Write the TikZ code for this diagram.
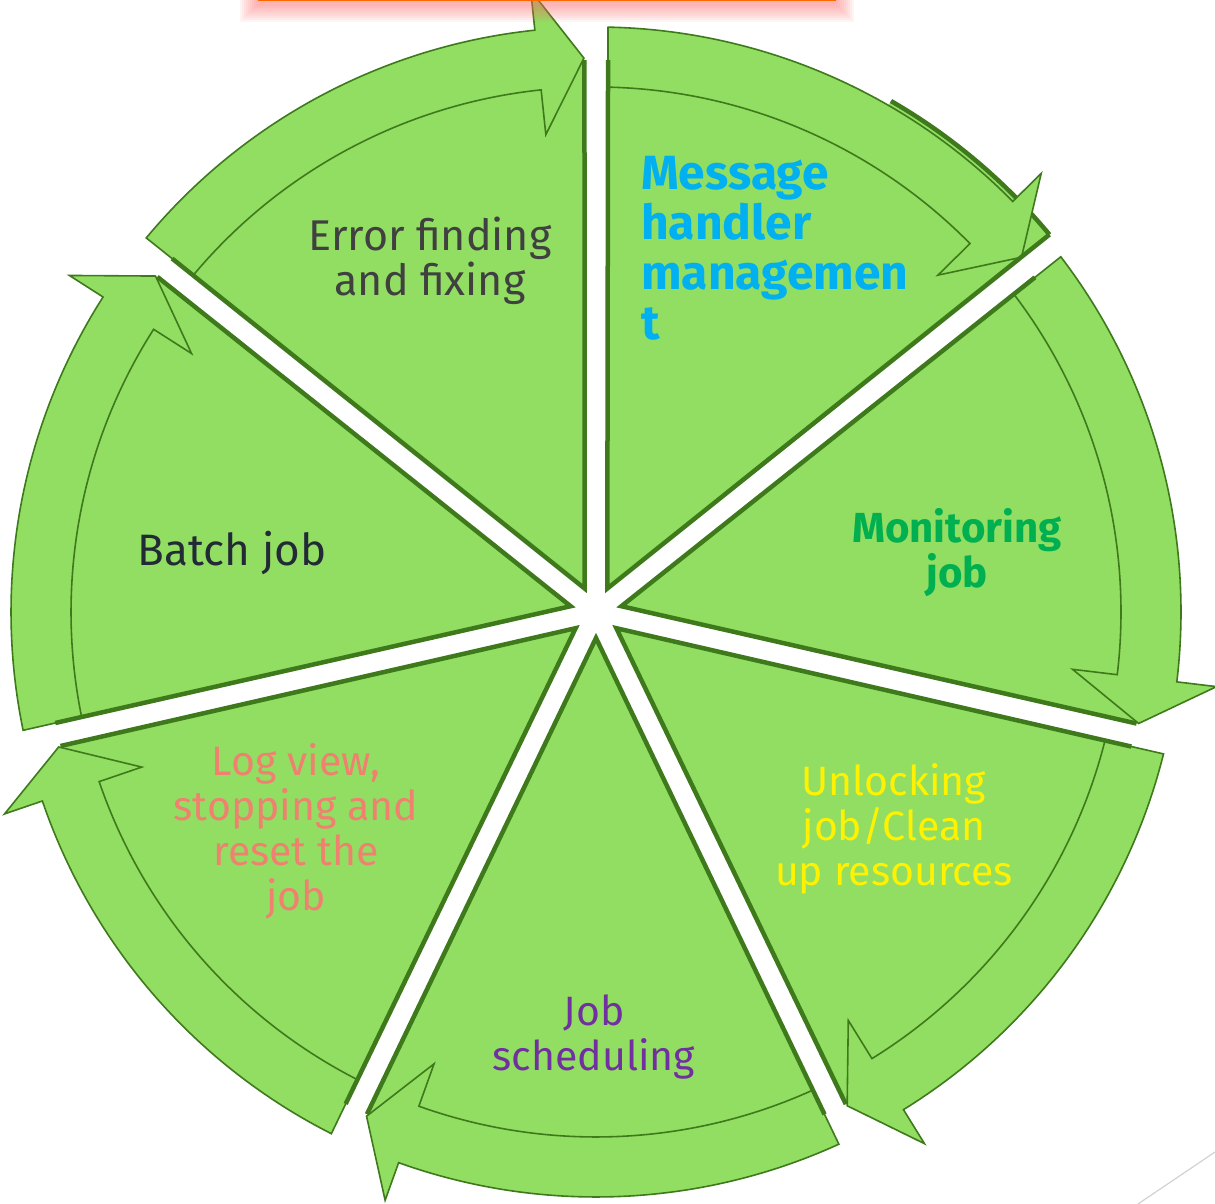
\documentclass[tikz,border=0pt]{standalone}
\usepackage{fontspec}
\setmainfont{Fira Sans}
\usetikzlibrary{calc}
\definecolor{leaf}{RGB}{146,222,98}
\definecolor{rim}{RGB}{62,122,28}
\definecolor{errgray}{RGB}{64,64,64}
\definecolor{msgblue}{RGB}{0,176,240}
\definecolor{mongreen}{RGB}{0,176,80}
\definecolor{jobpurple}{RGB}{112,48,160}
\definecolor{logred}{RGB}{240,128,112}
\definecolor{batchdark}{RGB}{34,42,53}
\begin{document}
\begin{tikzpicture}[x=1pt, y=1pt,
        wedge/.style={fill=leaf},
        band/.style={fill=leaf, draw=rim, line width=1.6pt, line join=miter},
        rimline/.style={draw=rim, line width=4.5pt},
        seglabel/.style={font=\fontsize{41}{45}\selectfont, align=center, inner sep=0pt}]
    \useasboundingbox (0,0) rectangle (1215,1204);
    \coordinate (c) at (596,592);
    % seven slices, each with its own arrow round the rim
    \foreach \i/\r in {0/552,1/590,2/552,3/552,4/552,5/552,6/552}{
        \pgfmathsetmacro\s{141.43-51.43*\i}
        \pgfmathsetmacro\e{\s-51.43}
        \pgfmathsetmacro\m{\s-25.715}
        \pgfmathsetmacro\b{\e+6}
        \fill[wedge] ($(c)+(\m:26)$) -- ($(c)+(\s-1.25:552)$) arc[start angle=\s-1.25, end angle=\e+1.2, radius=552pt] -- cycle;
        \ifnum\i=1
            \fill[wedge] ($(c)+(\e+1.2:552)$) -- ($(c)+(\e+1.2:\r)$) arc[start angle=\e+1.2, end angle=60, radius=\r pt] -- ($(c)+(60:552)$) -- cycle;
            \draw[rimline] ($(c)+(\e+1.2:\r)$) arc[start angle=\e+1.2, end angle=60, radius=\r pt];
        \fi
        \draw[band] ($(c)+(\s-1.18:585)$) arc[start angle=\s-1.18, end angle=\b, radius=585pt] -- ($(c)+(\b:625)$) -- ($(c)+(\e+1.25:554)$) -- ($(c)+(\b:480)$) -- ($(c)+(\b:525)$) arc[start angle=\b, end angle=\s-1.31, radius=525pt] -- cycle;
        \draw[rimline] ($(c)+(\s-1.25:552)$) -- ($(c)+(\m:26)$) -- ($(c)+(\e+1.2:\r)$);
    }
    \begin{scope}[every node/.style={seglabel}]
        \node[text=errgray, font=\fontsize{43}{45}\selectfont] (1) at (430,943) {Error finding\\and fixing};
        \node[text=msgblue, font=\bfseries\fontsize{48}{50}\selectfont, align=left, anchor=west] (2) at (641,956) {Message\\handler\\managemen\\t};
        \node[text=mongreen, font=\bfseries\fontsize{42}{45}\selectfont] (3) at (957,651) {Monitoring\\job};
        \node[text=yellow] (4) at (894,375) {Unlocking\\job/Clean\\up resources};
        \node[text=jobpurple] (5) at (594,167) {Job\\scheduling};
        \node[text=logred] (6) at (296,373) {Log view,\\stopping and\\reset the\\job};
        \node[text=batchdark, font=\fontsize{44}{45}\selectfont] (7) at (232,651) {Batch job};
    \end{scope}
    % glow of the box above
    \foreach \k in {1,...,9}
        \fill[red!60!white, opacity=0.07] (258-2*\k,1230) rectangle (836+2*\k,1200-2*\k);
    \draw[orange!80!red, line width=1.2pt] (258,1204) -- (836,1204);
    \draw[gray!35, line width=1.2pt] (1138,0) -- (1215,52);
\end{tikzpicture}
\end{document}
